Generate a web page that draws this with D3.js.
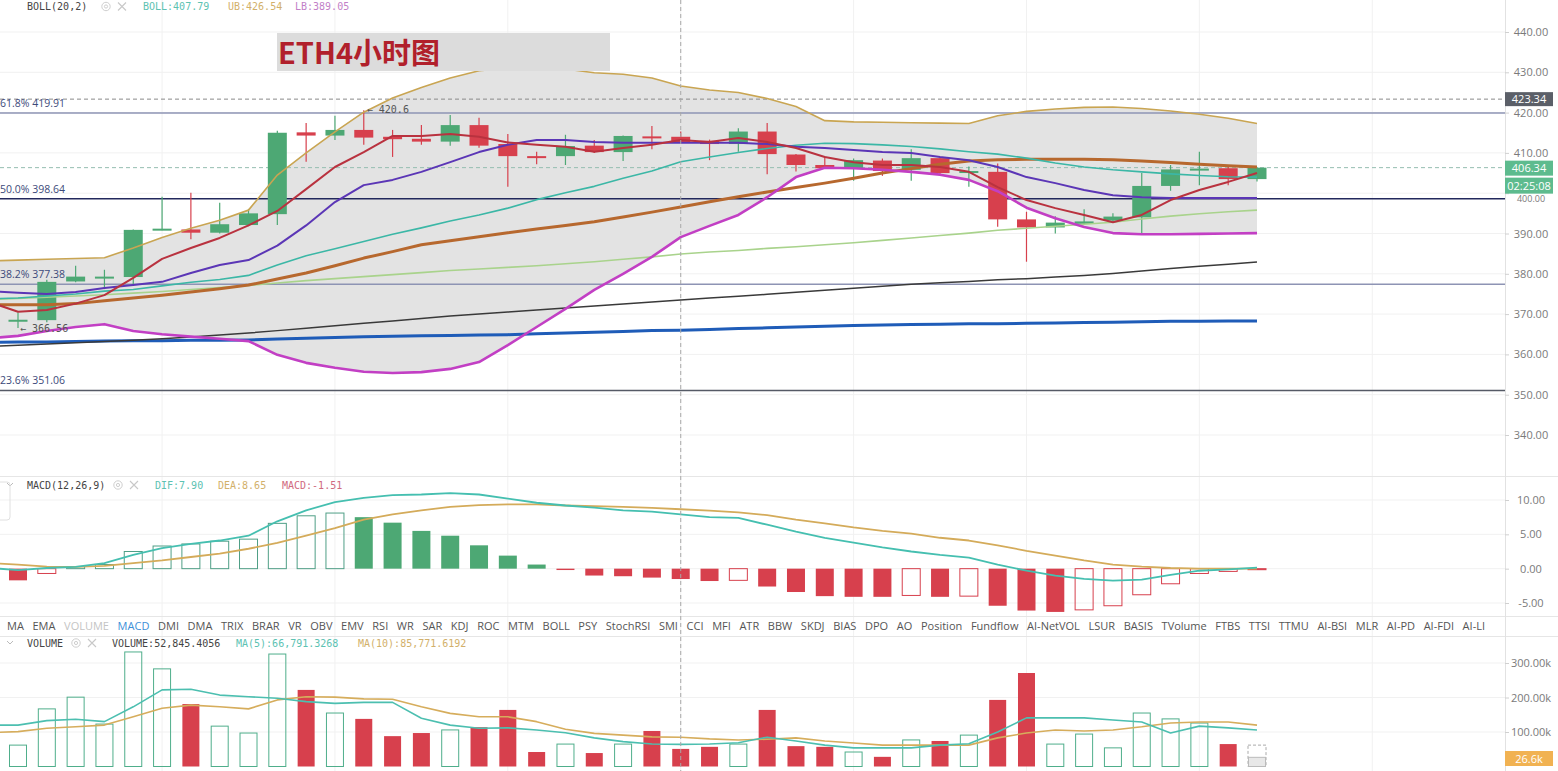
<!DOCTYPE html>
<html><head><meta charset="utf-8">
<script src="https://cdn.jsdelivr.net/npm/d3@7"></script>
<style>
html,body{margin:0;padding:0;background:#fff;overflow:hidden}
svg{display:block}
</style></head><body>
<svg id="chart" width="1558" height="771"></svg>
<script>
// ---------------- DATA ----------------
const chartTitle = "ETH4小时图";
// candles (44 x 4h bars)
const candleOpen  = [368.4,368.5,378.1,379.2,379.2,391.0,391.0,390.2,392.1,394.8,415.1,414.3,415.7,414.0,413.5,412.8,416.9,412.2,409.2,409.2,411.8,410.2,414.1,414.0,413.0,412.2,415.3,409.6,407.0,406.2,408.1,405.8,408.7,405.3,405.3,393.5,391.5,392.4,393.2,394.0,401.8,405.9,406.2,403.5];
const candleHigh  = [370.4,378.5,382.0,381.0,391.0,399.1,400.1,397.6,396.1,415.5,417.4,419.2,420.6,415.7,416.9,419.4,418.7,414.7,410.3,414.5,413.2,414.3,416.7,415.3,413.3,416.1,417.4,409.7,409.2,408.6,408.6,410.9,408.9,406.6,407.4,395.4,394.3,396.0,395.0,405.0,407.0,410.3,407.0,406.5];
const candleLow   = [366.56,368.0,377.9,376.2,377.0,390.8,388.6,390.0,391.8,392.1,407.8,413.2,412.0,409.0,412.0,411.8,411.3,401.6,407.2,407.0,410.0,408.0,410.9,412.4,408.2,410.3,404.7,405.4,406.0,403.1,404.3,403.1,404.8,401.6,391.7,383.0,390.0,392.3,393.1,390.0,400.6,402.0,402.0,402.9];
const candleClose = [368.6,378.0,379.3,379.3,390.9,391.2,390.2,392.3,395.0,415.0,414.3,415.7,413.8,413.4,412.8,416.9,411.8,409.2,409.1,411.7,410.2,414.2,414.0,412.5,412.2,415.3,409.7,407.0,406.2,408.2,405.5,408.7,405.0,405.5,393.5,391.5,392.7,393.0,394.2,401.8,405.9,406.1,403.5,406.34];
// indicator lines: first value belongs to the bar just left of the view
const bollUpper = [383.2,383.4,383.6,383.8,384.0,386.4,389.0,391.3,393.3,395.8,404.5,410.0,415.2,420.1,423.6,426.2,428.6,430.4,431.0,431.2,430.8,429.9,429.5,428.6,426.6,425.6,425.0,423.5,421.5,418.0,417.7,417.6,417.5,417.4,417.3,419.2,420.3,420.9,421.3,421.4,421.0,420.4,419.6,418.6,417.3];
const bollLower = [364.0,364.6,365.8,366.8,367.5,365.8,365.0,364.4,363.9,363.3,359.9,357.9,356.7,355.7,355.4,355.6,356.4,358.1,362.3,366.8,371.3,376.0,380.0,384.2,389.1,391.9,394.6,399.0,404.0,406.3,406.2,405.8,405.3,404.6,403.3,400.5,396.4,393.8,391.6,390.1,389.8,389.8,389.9,390.0,390.1];
const bollMid   = [373.8,374.0,374.5,375.0,375.7,376.1,377.0,377.9,378.6,379.6,382.2,384.5,386.2,388.0,389.8,391.4,393.1,394.6,396.3,398.4,400.1,401.7,403.7,405.5,407.8,409.0,410.1,411.1,411.9,412.4,412.3,412.0,411.6,411.0,410.3,409.7,408.7,407.5,406.5,405.8,405.3,404.8,404.4,404.1,404.0];
const ma5   = [373.0,370.6,371.0,372.6,374.7,379.0,383.7,386.4,388.9,392.0,395.6,401.0,406.5,410.2,414.2,414.2,414.7,414.0,412.6,412.0,411.5,410.3,411.2,412.0,413.2,412.7,413.7,412.7,411.2,409.0,407.7,407.0,407.0,406.5,405.3,401.5,398.3,396.3,394.6,392.8,394.6,398.3,400.8,402.8,405.0];
const ma10  = [375.7,375.3,375.0,375.5,376.5,377.2,378.0,380.2,382.2,383.4,387.0,392.0,397.8,402.0,403.3,405.3,407.7,410.2,412.0,413.2,413.2,412.7,412.5,412.5,412.5,412.5,412.5,412.2,411.5,411.2,410.7,410.2,410.0,409.0,408.2,406.5,404.0,402.5,400.8,399.5,399.0,398.8,398.8,398.8,398.8];
const ma30  = [372.3,372.3,372.3,372.6,373.3,374.0,374.7,375.5,376.3,377.2,378.7,380.2,382.0,383.9,385.5,387.2,388.2,389.2,390.2,391.1,392.0,392.9,394.1,395.3,396.6,397.9,399.1,400.3,401.4,402.5,403.7,405.0,406.1,407.2,408.0,408.3,408.4,408.4,408.4,408.3,408.0,407.6,407.2,406.8,406.5];
const ma60  = [373.6,373.9,374.2,374.5,374.8,375.2,375.6,376.1,376.6,377.1,377.7,378.3,378.8,379.3,379.8,380.3,380.8,381.2,381.6,382.0,382.5,383.0,383.6,384.2,384.9,385.4,385.8,386.3,386.7,387.2,387.7,388.3,388.9,389.5,390.1,390.8,391.3,391.8,392.3,392.8,393.6,394.3,394.9,395.4,395.8];
const ma120 = [362.0,362.3,362.6,362.9,363.2,363.5,363.9,364.3,364.8,365.3,365.9,366.5,367.1,367.7,368.3,368.9,369.5,370.0,370.5,371.0,371.5,372.0,372.5,373.0,373.5,374.0,374.4,374.9,375.4,375.9,376.4,376.9,377.4,377.8,378.1,378.5,378.8,379.2,379.6,380.1,380.7,381.3,381.9,382.4,382.9];
const ma200 = [363.0,363.1,363.1,363.2,363.3,363.4,363.4,363.5,363.5,363.6,363.8,364.0,364.2,364.4,364.5,364.6,364.7,364.8,364.9,365.1,365.3,365.5,365.7,365.9,366.0,366.2,366.4,366.6,366.8,367.0,367.2,367.3,367.4,367.5,367.6,367.6,367.7,367.8,367.9,368.0,368.1,368.2,368.2,368.3,368.3];
const fibLabels = ["23.6%","38.2%","50.0%","61.8%"];
const fibValues = [351.06,377.38,398.64,419.91];
const refPrice = 423.34;
const lastPrice = 406.34;
const countdown = "02:25:08";
const priceTicks = [340,350,360,370,380,390,400,410,420,430,440];
// MACD
const macdDif  = [0.1,-0.2,0.1,0.25,0.8,2.0,3.0,3.6,4.1,4.8,6.9,8.5,9.7,10.3,10.7,10.8,11.0,10.8,10.2,9.6,9.2,8.9,8.5,8.3,7.9,7.5,7.4,6.4,5.4,4.5,3.8,3.1,2.5,2.0,1.6,0.6,-0.3,-1.0,-1.5,-1.75,-1.6,-0.9,-0.3,-0.1,0.15];
const macdDea  = [0.8,0.6,0.3,0.25,0.4,0.8,1.2,1.7,2.2,2.9,3.75,4.8,5.9,7.15,7.9,8.5,9.0,9.25,9.35,9.35,9.2,9.1,9.0,8.85,8.65,8.45,8.2,7.8,7.15,6.6,6.0,5.5,5.1,4.5,4.1,3.4,2.6,1.9,1.2,0.6,0.3,0.1,0.0,0.0,0.0];
const macdHist = [-1.7,-0.7,0.3,0.6,2.5,3.3,3.6,4.0,4.3,6.6,7.7,8.1,7.5,6.7,5.5,4.8,3.4,1.9,0.6,-0.2,-1.0,-1.1,-1.3,-1.51,-1.8,-1.7,-2.6,-3.4,-4.0,-4.1,-4.1,-3.9,-4.1,-4.0,-5.4,-6.1,-6.3,-6.0,-5.4,-3.8,-2.2,-0.7,-0.4,-0.15];
const macdTicks = [-5,0,5,10];
// Volume (thousands)
const volume = [62,167,201,123,332,283,181,117,97,326,222,155,138,88,97,106,114,164,42,65,39,65,103,51,57,65,164,59,57,42,28,77,74,91,193,271,65,94,54,155,138,126,65,26.6];
const lastBarEstimate = 62;
const volMa5  = [120,120,133,137,130,173,222,224,207,202,198,188,183,186,186,140,120,111,112,106,98,83,72,65,64,65,69,85,74,62,54,54,54,62,66,100,141,141,141,135,129,97,117,112,106];
const volMa10 = [98,101,111,115,120,144,169,178,173,167,193,202,201,196,195,173,154,144,144,130,108,96,91,86,85,80,77,79,83,74,68,62,62,62,62,83,97,106,103,106,115,126,129,129,120];
const volumeTicks = [100,200,300];
const crosshairIndex = 23;
const indicatorTabs = ["MA","EMA","VOLUME","MACD","DMI","DMA","TRIX","BRAR","VR","OBV","EMV","RSI","WR","SAR","KDJ","ROC","MTM","BOLL","PSY","StochRSI","SMI","CCI","MFI","ATR","BBW","SKDJ","BIAS","DPO","AO","Position","Fundflow","AI-NetVOL","LSUR","BASIS","TVolume","FTBS","TTSI","TTMU","AI-BSI","MLR","AI-PD","AI-FDI","AI-LI"];

// ---------------- LAYOUT ----------------
const W = 1558, H = 771, AX = 1505;
const GREEN = "#4da874", RED = "#d7404d";
const svg = d3.select("#chart");
const n = candleOpen.length;
const x = d3.scaleLinear().domain([0, n - 1]).range([18, 1257]);
const bodyW = 19;
const yP = d3.scaleLinear().domain([340, 440]).range([435, 32]);
const yM = d3.scaleLinear().domain([-5, 10]).range([603, 500]);
const yV = d3.scaleLinear().domain([0, 300]).range([766.5, 663]);
const SANS = "'Open Sans', 'Noto Sans', sans-serif";
const MONO = "'DejaVu Sans Mono', monospace";

const defs = svg.append("defs");
function clip(id, y0, y1) {
  defs.append("clipPath").attr("id", id).append("rect").attr("x", 0).attr("y", y0).attr("width", AX).attr("height", y1 - y0);
}
clip("cMain", 0, 476); clip("cMacd", 477, 616); clip("cVol", 637, H);

// grid
const grid = svg.append("g").attr("stroke", "#f1f1f1").attr("stroke-width", 1);
d3.range(5, 60, 6).filter(k => x(k) < AX).forEach(k => {
  grid.append("line").attr("x1", x(k)).attr("x2", x(k)).attr("y1", 0).attr("y2", H);
});
priceTicks.forEach(t => grid.append("line").attr("x1", 0).attr("x2", AX).attr("y1", yP(t)).attr("y2", yP(t)));
macdTicks.forEach(t => grid.append("line").attr("x1", 0).attr("x2", AX).attr("y1", yM(t)).attr("y2", yM(t)));
volumeTicks.forEach(t => grid.append("line").attr("x1", 0).attr("x2", AX).attr("y1", yV(t)).attr("y2", yV(t)));

// separators
[476.5, 616.5, 636.5].forEach(yy => svg.append("line").attr("x1", 0).attr("x2", W).attr("y1", yy).attr("y2", yy).attr("stroke", "#e6e6e6"));
svg.append("line").attr("x1", AX + 0.5).attr("x2", AX + 0.5).attr("y1", 0).attr("y2", H).attr("stroke", "#e2e2e2");

// ---------------- MAIN PANEL ----------------
const main = svg.append("g").attr("clip-path", "url(#cMain)");
const xl = (d, i) => x(i - 1);
main.append("path").datum(bollUpper.map((u, i) => [u, bollLower[i]]))
  .attr("d", d3.area().x(xl).y0(d => yP(d[1])).y1(d => yP(d[0])))
  .attr("fill", "#e3e3e3");

// title box
svg.append("rect").attr("x", 277).attr("y", 33).attr("width", 333).attr("height", 38).attr("fill", "#dcdcdc");
svg.append("text").attr("x", 278).attr("y", 64).text(chartTitle)
  .attr("font-family", "'Noto Sans CJK SC', 'Noto Sans', sans-serif").attr("font-weight", "bold")
  .attr("font-size", 29).attr("fill", "#b1202b");

// fib
const fibColors = ["#555a66", "#8e94b4", "#22285c", "#8e94b4"];
fibValues.forEach((v, i) => {
  main.append("line").attr("x1", 0).attr("x2", AX).attr("y1", yP(v)).attr("y2", yP(v))
    .attr("stroke", fibColors[i]).attr("stroke-width", 1.5);
  svg.append("text").attr("x", 0).attr("y", yP(v) - 6).text(fibLabels[i] + " " + v.toFixed(2))
    .attr("font-family", SANS).attr("font-size", 10.5).attr("fill", "#3d4a7a");
});
// dashed price lines
main.append("line").attr("x1", 0).attr("x2", AX).attr("y1", yP(refPrice)).attr("y2", yP(refPrice))
  .attr("stroke", "#8a8a8a").attr("stroke-dasharray", "4,3");
main.append("line").attr("x1", 0).attr("x2", AX).attr("y1", yP(lastPrice)).attr("y2", yP(lastPrice))
  .attr("stroke", "#94bdb0").attr("stroke-dasharray", "4,3");

// candles
const candles = d3.range(n).map(i => ({ i, o: candleOpen[i], h: candleHigh[i], l: candleLow[i], c: candleClose[i] }));
const cg = main.append("g").selectAll("g").data(candles).join("g");
cg.append("line").attr("x1", d => x(d.i)).attr("x2", d => x(d.i))
  .attr("y1", d => yP(d.h)).attr("y2", d => yP(d.l))
  .attr("stroke", d => d.c >= d.o ? GREEN : RED).attr("stroke-width", 1.2);
cg.append("rect").attr("x", d => x(d.i) - bodyW / 2).attr("width", bodyW)
  .attr("y", d => yP(Math.max(d.o, d.c)))
  .attr("height", d => Math.max(2, Math.abs(yP(d.o) - yP(d.c))))
  .attr("fill", d => d.c >= d.o ? GREEN : RED);

// lines
const lineGen = d3.line().x(xl);
function drawLine(g, data, scale, color, width) {
  g.append("path").datum(data).attr("d", lineGen.y(d => scale(d))).attr("fill", "none")
    .attr("stroke", color).attr("stroke-width", width).attr("stroke-linejoin", "round");
}
drawLine(main, ma200, yP, "#1f5cb8", 3);
drawLine(main, ma120, yP, "#3a3a3a", 1.5);
drawLine(main, ma60, yP, "#a9d38c", 1.6);
drawLine(main, ma30, yP, "#b7682e", 3);
drawLine(main, bollMid, yP, "#3bb7a6", 1.6);
drawLine(main, bollUpper, yP, "#c9a552", 1.6);
drawLine(main, bollLower, yP, "#c23fc4", 2.6);
drawLine(main, ma10, yP, "#5b36b6", 2);
drawLine(main, ma5, yP, "#b9323f", 2);

// high/low markers
const hiIdx = d3.maxIndex(candleHigh), loIdx = d3.minIndex(candleLow);
svg.append("text").attr("x", x(hiIdx) + 3).attr("y", yP(candleHigh[hiIdx]) + 3).text("← " + candleHigh[hiIdx])
  .attr("font-family", MONO).attr("font-size", 10).attr("fill", "#555");
svg.append("text").attr("x", x(loIdx) + 2).attr("y", yP(candleLow[loIdx]) + 4).text("← " + candleLow[loIdx])
  .attr("font-family", MONO).attr("font-size", 10).attr("fill", "#555");

// ---------------- MACD PANEL ----------------
const mg = svg.append("g").attr("clip-path", "url(#cMacd)");
const hist = macdHist.map((v, i) => ({ i, v, prev: i > 0 ? macdHist[i - 1] : v }));
mg.selectAll("rect").data(hist).join("rect")
  .attr("x", d => x(d.i) - 9).attr("width", 18)
  .attr("y", d => yM(Math.max(0, d.v)))
  .attr("height", d => Math.max(1, Math.abs(yM(d.v) - yM(0))))
  .attr("fill", d => d.v >= 0 ? (d.v > d.prev ? "none" : GREEN) : (d.v > d.prev ? "none" : RED))
  .attr("stroke", d => d.v >= 0 ? (d.v > d.prev ? "#4f9f86" : "none") : (d.v > d.prev ? RED : "none"))
  .attr("stroke-width", 1);
drawLine(mg, macdDea, yM, "#d4ab5a", 1.8);
drawLine(mg, macdDif, yM, "#45bfb0", 1.8);

// ---------------- VOLUME PANEL ----------------
const vg = svg.append("g").attr("clip-path", "url(#cVol)");
const vols = volume.map((v, i) => ({ i, v, up: candleClose[i] >= candleOpen[i], last: i === n - 1 }));
vg.append("rect").attr("x", x(n - 1) - 9).attr("width", 18)
  .attr("y", yV(lastBarEstimate)).attr("height", yV(0) - yV(lastBarEstimate))
  .attr("fill", "none").attr("stroke", "#aaa").attr("stroke-dasharray", "3,2");
vg.selectAll("rect.v").data(vols).join("rect").attr("class", "v")
  .attr("x", d => x(d.i) - 9 + 0.5).attr("width", 17)
  .attr("y", d => yV(d.v)).attr("height", d => yV(0) - yV(d.v))
  .attr("fill", d => d.last ? "#e8e8e8" : (d.up ? "none" : RED))
  .attr("stroke", d => d.last ? "#bbb" : (d.up ? "#4fae8b" : "none"));
drawLine(vg, volMa10, yV, "#d6ad5c", 1.6);
drawLine(vg, volMa5, yV, "#4cbfb0", 1.6);

// ---------------- AXES ----------------
function rightAxis(scale, ticks, fmt) {
  const g = svg.append("g").attr("transform", `translate(${AX},0)`)
    .call(d3.axisRight(scale).tickValues(ticks).tickSize(4).tickFormat(fmt));
  g.select(".domain").remove();
  g.selectAll(".tick line").attr("stroke", "#d0d0d0");
  g.selectAll(".tick text").attr("x", 26).attr("text-anchor", "middle")
    .attr("font-family", SANS).attr("font-size", 11).attr("fill", "#7a7a7a");
  return g;
}
const pAxis = rightAxis(yP, priceTicks, d => d.toFixed(2));
// the 400.00 label sits partly under the countdown tag, as in the source: nudge it below the tag
pAxis.selectAll(".tick text").filter(d => d === 400).attr("dy", "0.95em").attr("font-size", 9);
rightAxis(yM, macdTicks, d => d.toFixed(2));
rightAxis(yV, volumeTicks, d => d.toFixed(2) + "k");

function tag(y0, h, fill, label) {
  svg.append("rect").attr("x", AX).attr("y", y0).attr("width", 48).attr("height", h).attr("fill", fill);
  svg.append("text").attr("x", AX + 24).attr("y", y0 + h / 2 + 4).attr("text-anchor", "middle").text(label)
    .attr("font-family", SANS).attr("font-size", 11).attr("fill", "#fff");
}
tag(yP(refPrice) - 7, 14, "#5b5f68", refPrice.toFixed(2));
tag(yP(lastPrice) - 7, 15, "#5dbb8e", lastPrice.toFixed(2));
tag(yP(lastPrice) + 10, 16, "#5dbb8e", countdown);
tag(751, 15, "#f1b252", volume[n - 1] + "k");

// crosshair
svg.append("line").attr("x1", x(crosshairIndex)).attr("x2", x(crosshairIndex)).attr("y1", 0).attr("y2", H)
  .attr("stroke", "#a8a8a8").attr("stroke-dasharray", "4,3");

// ---------------- HEADERS ----------------
function icons(cx, cy) {
  svg.append("circle").attr("cx", cx).attr("cy", cy).attr("r", 4.2).attr("fill", "none").attr("stroke", "#cfcfcf");
  svg.append("circle").attr("cx", cx).attr("cy", cy).attr("r", 1.6).attr("fill", "none").attr("stroke", "#cfcfcf");
  const ex = cx + 16;
  svg.append("path").attr("d", `M${ex - 4},${cy - 4}L${ex + 4},${cy + 4}M${ex + 4},${cy - 4}L${ex - 4},${cy + 4}`)
    .attr("stroke", "#c8c8c8").attr("stroke-width", 1.1);
}
function chevron(cy) {
  svg.append("path").attr("d", `M7,${cy - 2}L10,${cy + 1}L13,${cy - 2}`).attr("fill", "none").attr("stroke", "#bbb");
}
function headerText(xx, yy, t, color) {
  svg.append("text").attr("x", xx).attr("y", yy).text(t).attr("font-family", MONO).attr("font-size", 10).attr("fill", color);
}
headerText(27, 10, "BOLL(20,2)", "#444");
icons(106, 6.5);
headerText(143, 10, "BOLL:407.79", "#5cc2b2");
headerText(228, 10, "UB:426.54", "#d2b06a");
headerText(295, 10, "LB:389.05", "#c27fc8");

chevron(485); headerText(27, 488.5, "MACD(12,26,9)", "#444");
icons(118, 485);
headerText(155, 488.5, "DIF:" + macdDif[crosshairIndex + 1].toFixed(2), "#5cc2b2");
headerText(218, 488.5, "DEA:" + macdDea[crosshairIndex + 1].toFixed(2), "#d2b06a");
headerText(282, 488.5, "MACD:" + macdHist[crosshairIndex].toFixed(2), "#d06a80");
svg.append("rect").attr("x", -5).attr("y", 482).attr("width", 15).attr("height", 38).attr("rx", 3)
  .attr("fill", "none").attr("stroke", "#e0e0e0");

chevron(643); headerText(27, 646.5, "VOLUME", "#444");
icons(76, 643);
headerText(112, 646.5, "VOLUME:52,845.4056", "#444");
headerText(236, 646.5, "MA(5):66,791.3268", "#5cc2b2");
headerText(358, 646.5, "MA(10):85,771.6192", "#d2b06a");

// indicator tabs
const tg = svg.append("g").attr("font-family", SANS).attr("font-size", 11);
const tabs = tg.selectAll("text").data(indicatorTabs).join("text").text(d => d).attr("y", 630)
  .attr("fill", d => d === "VOLUME" ? "#c4c4c4" : d === "MACD" ? "#3d8fd8" : "#555");
const widths = tabs.nodes().map(nd => nd.getComputedTextLength());
const gap = (1485 - 7 - d3.sum(widths)) / (indicatorTabs.length - 1);
let cx = 7;
tabs.attr("x", (d, i) => { const v = cx; cx += widths[i] + gap; return v; });
</script>
</body></html>
